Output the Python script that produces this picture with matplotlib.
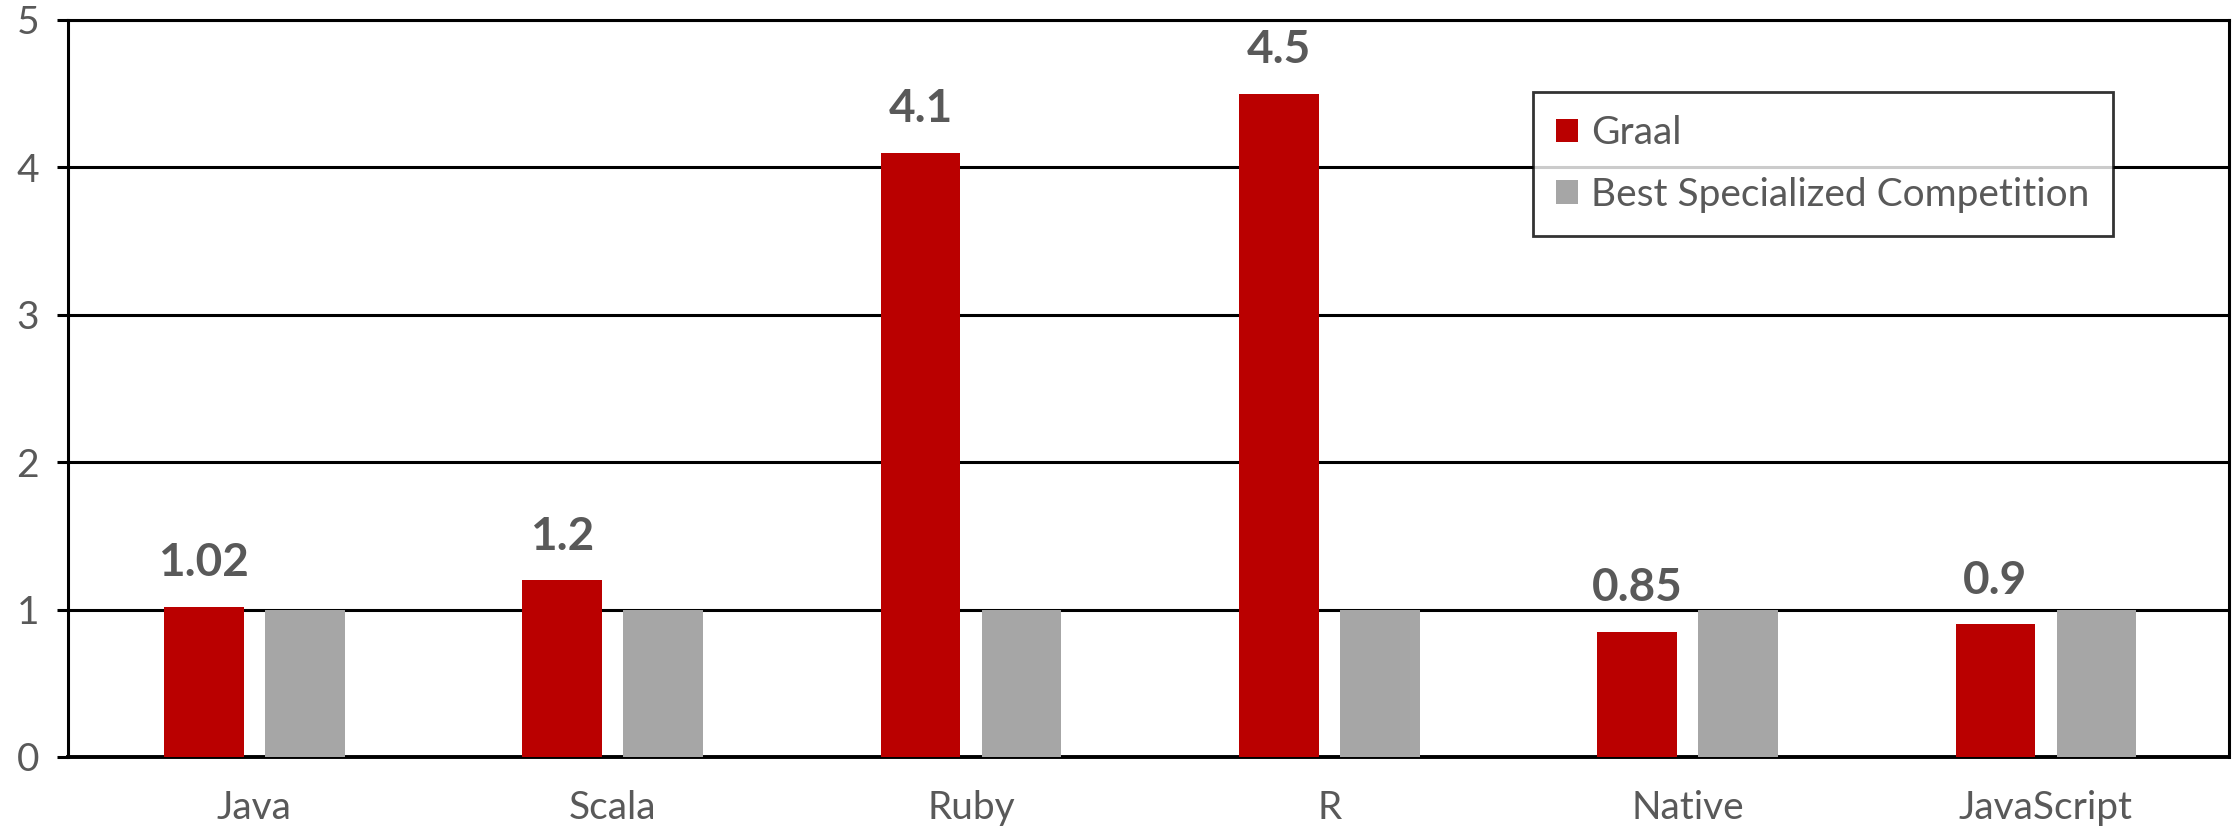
import numpy as np
import matplotlib
matplotlib.use('Agg')
import matplotlib.pyplot as plt

# データ
languages = ['Java', 'Scala', 'Ruby', 'R', 'Native', 'JavaScript']
graal = [1.02, 1.2, 4.1, 4.5, 0.85, 0.9]
competition = [1, 1, 1, 1, 1, 1]
graal_labels = ['1.02', '1.2', '4.1', '4.5', '0.85', '0.9']

red = '#BA0000'
grey = '#A6A6A6'
text_grey = '#595959'

plt.rcParams['font.family'] = ['Lato', 'DejaVu Sans']

fig = plt.figure(figsize=(22.32, 8.3), dpi=100)
ax = fig.add_axes([0.0305, 0.088, 0.968, 0.888])

x = np.arange(len(languages))
w = 0.222
off = 0.141
bars = ax.bar(x - off, graal, w, color=red, label='Graal', zorder=3)
ax.bar(x + off, competition, w, color=grey, label='Best Specialized Competition', zorder=3)

# 値ラベル（Graal のみ）
for b, txt in zip(bars, graal_labels):
    ax.annotate(txt, (b.get_x() + b.get_width() / 2, b.get_height()),
                xytext=(0, 22), textcoords='offset points',
                ha='center', va='baseline', fontsize=33, fontweight='bold',
                color=text_grey)

ax.set_xlim(-0.52, len(languages) - 0.49)
ax.set_ylim(0, 5)
ax.set_yticks(range(6))
ax.set_xticks(x)
ax.set_xticklabels(languages)
ax.yaxis.grid(True, color='black', linewidth=2.2, zorder=1)
ax.set_axisbelow(True)

for s in ax.spines.values():
    s.set_color('black')
    s.set_linewidth(2.2)
ax.spines['bottom'].set_linewidth(2.8)

ax.tick_params(axis='y', length=8, width=2.2, color='black', pad=13,
               labelsize=28, labelcolor=text_grey)
ax.tick_params(axis='x', length=0, pad=24, labelsize=28, labelcolor=text_grey)

leg = ax.legend(loc='upper left', bbox_to_anchor=(0.678, 0.902),
                fontsize=28, frameon=True, fancybox=False, edgecolor='black',
                handlelength=0.55, handleheight=0.55, handletextpad=0.35,
                labelspacing=0.65, borderpad=0.6, borderaxespad=0)
leg.get_frame().set_linewidth(2.0)
for t in leg.get_texts():
    t.set_color(text_grey)

fig.savefig('out.png', dpi=100)
